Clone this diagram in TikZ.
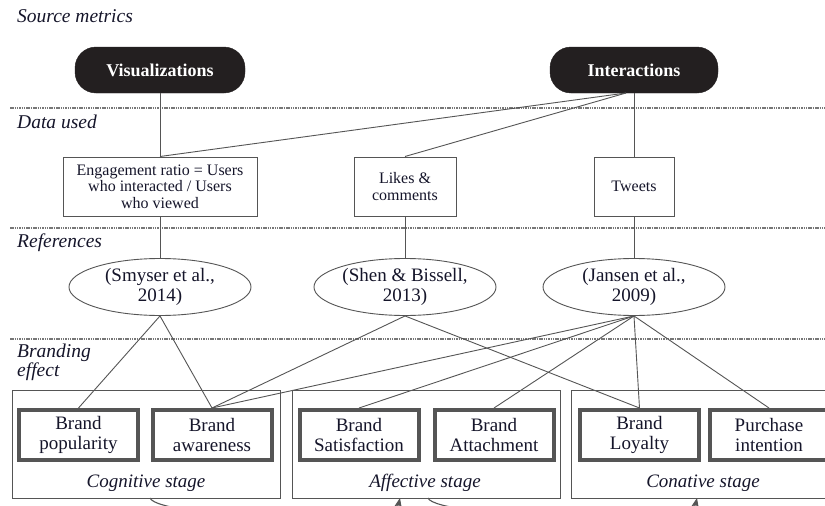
\documentclass[tikz,border=0pt]{standalone}
\usepackage{fontspec}
\setmainfont{Liberation Serif}
\usetikzlibrary{shapes.geometric,arrows.meta}
\definecolor{ln}{HTML}{555555}
\definecolor{pillc}{HTML}{231F20}
\definecolor{txt}{HTML}{15152A}
\begin{document}
\begin{tikzpicture}[x=1pt,y=-1pt,
  pillbox/.style={draw=pillc, fill=pillc, rounded corners=21pt, minimum width=170pt, minimum height=46pt, text=white, font=\fontsize{18}{20}\selectfont\bfseries, inner sep=0pt},
  databox/.style={draw=ln, line width=1pt, minimum height=59pt, align=center, font=\fontsize{16}{16.5}\selectfont, inner sep=0pt, text=txt},
  refell/.style={draw=ln, line width=0.9pt, ellipse, minimum width=182pt, minimum height=57pt, align=center, font=\fontsize{19}{20}\selectfont, inner sep=0pt, text=txt},
  effbox/.style={draw=ln, line width=4pt, minimum width=119pt, minimum height=50pt, align=center, font=\fontsize{19}{20}\selectfont, inner sep=0pt, text=txt},
  stagebox/.style={draw=ln, line width=1pt, minimum width=268pt, minimum height=108pt, inner sep=0pt},
  stagelab/.style={anchor=base, font=\fontsize{19}{20}\selectfont\itshape, inner sep=0pt, text=txt},
  lab/.style={anchor=base west, font=\fontsize{19.5}{20}\selectfont\itshape, inner sep=0pt, text=txt},
  conn/.style={draw=ln, line width=0.9pt},
  sepline/.style={draw=ln!80, line width=1.8pt, dash pattern=on 1.5pt off 0.8pt},
  arr/.style={draw=ln, line width=1.1pt, -{Stealth[length=10pt,width=8pt]}}
]
\clip (0,0) rectangle (825,506);
\useasboundingbox (0,0) rectangle (825,506);
\fill[white] (0,0) rectangle (825,506);

% separators
\draw[sepline] (10,108) -- (825,108);
\draw[sepline] (10,228) -- (825,228);
\draw[sepline] (10,339) -- (825,339);

% section labels
\node[lab] (lsrc) at (17,23) {Source metrics};
\node[lab] (ldata) at (17,128) {Data used};
\node[lab] (lref) at (17,247) {References};
\node[lab] (lbr1) at (17,357) {Branding};
\node[lab] (lbr2) at (17,376) {effect};

% source metrics
\node[pillbox] (vis) at (160,70) {Visualizations};
\node[pillbox, minimum width=168pt] (int) at (634,70) {Interactions};
\coordinate (intp) at (626,93);

% data used
\node[databox, minimum width=194pt] (eng) at (160,186.5) {Engagement ratio = Users\\who interacted / Users\\who viewed};
\node[databox, minimum width=102pt] (lik) at (405,186.5) {Likes \&\\comments};
\node[databox, minimum width=80pt] (twe) at (634,186.5) {Tweets};

% references
\node[refell] (smy) at (160,287) {(Smyser et al.,\\2014)};
\node[refell] (she) at (405,287) {(Shen \& Bissell,\\2013)};
\node[refell] (jan) at (634,287) {(Jansen et al.,\\2009)};

% stage boxes
\node[stagebox] (cog) at (146,444) {};
\node[stagebox] (aff) at (426,444) {};
\node[stagebox] (con) at (705,444) {};
\node[stagelab] (lcog) at (146,487) {Cognitive stage};
\node[stagelab] (laff) at (425,487) {Affective stage};
\node[stagelab] (lcon) at (703,487) {Conative stage};

% branding effects
\node[effbox] (pop) at (78.5,435) {Brand\\popularity};
\node[effbox] (awa) at (212,435) {Brand\\awareness};
\node[effbox] (sat) at (359,435) {Brand\\Satisfaction};
\node[effbox] (att) at (494,435) {Brand\\Attachment};
\node[effbox] (loy) at (639.5,435) {Brand\\Loyalty};
\node[effbox] (pur) at (769,435) {Purchase\\intention};

% connectors: source -> data
\draw[conn] (vis.south) -- (eng.north);
\draw[conn] (intp) -- (eng.north);
\draw[conn] (intp) -- (lik.north);
\draw[conn] (int.south) -- (twe.north);

% data -> references
\draw[conn] (eng.south) -- (smy.north);
\draw[conn] (lik.south) -- (she.north);
\draw[conn] (twe.south) -- (jan.north);

% references -> effects
\draw[conn] (smy.south) -- (pop.north);
\draw[conn] (smy.south) -- (awa.north);
\draw[conn] (she.south) -- (awa.north);
\draw[conn] (she.south) -- (loy.north);
\draw[conn] (jan.south) -- (awa.north);
\draw[conn] (jan.south) -- (sat.north);
\draw[conn] (jan.south) -- (att.north);
\draw[conn] (jan.south) -- (loy.north);
\draw[conn] (jan.south) -- (pur.north);

% stage transitions (cut off at the bottom)
\coordinate (c1) at (150,498);
\coordinate (a1) at (400,498);
\coordinate (a2) at (428,498);
\coordinate (k1) at (697,498);
\draw[arr] (c1) .. controls (158,518) and (394,526) .. (a1);
\draw[arr] (a2) .. controls (436,518) and (691,526) .. (k1);
\end{tikzpicture}
\end{document}
